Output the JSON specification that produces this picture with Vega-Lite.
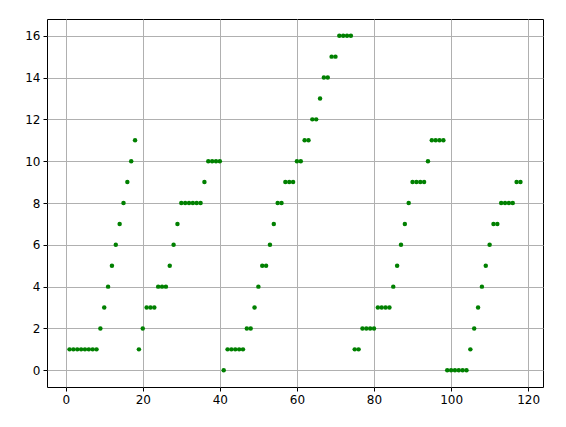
{
  "$schema": "https://vega.github.io/schema/vega-lite/v6.json",
  "width": 496,
  "height": 368,
  "padding": {"left": 47, "top": 19, "right": 23, "bottom": 40},
  "autosize": "none",
  "background": "white",
  "config": {
    "view": {"stroke": "black", "strokeWidth": 1},
    "axis": {
      "labelFont": "DejaVu Sans",
      "labelFontSize": 12,
      "labelColor": "black",
      "tickColor": "black",
      "tickSize": 4,
      "tickWidth": 1,
      "domain": false,
      "grid": true,
      "gridColor": "#b0b0b0",
      "gridWidth": 1,
      "labelPadding": 3,
      "title": null,
      "zindex": 1
    }
  },
  "data": {
    "values": [
      {"x":1,"y":1},{"x":2,"y":1},{"x":3,"y":1},{"x":4,"y":1},{"x":5,"y":1},{"x":6,"y":1},{"x":7,"y":1},{"x":8,"y":1},
      {"x":9,"y":2},{"x":10,"y":3},{"x":11,"y":4},{"x":12,"y":5},{"x":13,"y":6},{"x":14,"y":7},{"x":15,"y":8},{"x":16,"y":9},{"x":17,"y":10},{"x":18,"y":11},
      {"x":19,"y":1},{"x":20,"y":2},{"x":21,"y":3},{"x":22,"y":3},{"x":23,"y":3},{"x":24,"y":4},{"x":25,"y":4},{"x":26,"y":4},
      {"x":27,"y":5},{"x":28,"y":6},{"x":29,"y":7},{"x":30,"y":8},{"x":31,"y":8},{"x":32,"y":8},{"x":33,"y":8},{"x":34,"y":8},{"x":35,"y":8},
      {"x":36,"y":9},{"x":37,"y":10},{"x":38,"y":10},{"x":39,"y":10},{"x":40,"y":10},
      {"x":41,"y":0},{"x":42,"y":1},{"x":43,"y":1},{"x":44,"y":1},{"x":45,"y":1},{"x":46,"y":1},
      {"x":47,"y":2},{"x":48,"y":2},{"x":49,"y":3},{"x":50,"y":4},{"x":51,"y":5},{"x":52,"y":5},{"x":53,"y":6},{"x":54,"y":7},
      {"x":55,"y":8},{"x":56,"y":8},{"x":57,"y":9},{"x":58,"y":9},{"x":59,"y":9},{"x":60,"y":10},{"x":61,"y":10},
      {"x":62,"y":11},{"x":63,"y":11},{"x":64,"y":12},{"x":65,"y":12},{"x":66,"y":13},{"x":67,"y":14},{"x":68,"y":14},
      {"x":69,"y":15},{"x":70,"y":15},{"x":71,"y":16},{"x":72,"y":16},{"x":73,"y":16},{"x":74,"y":16},
      {"x":75,"y":1},{"x":76,"y":1},{"x":77,"y":2},{"x":78,"y":2},{"x":79,"y":2},{"x":80,"y":2},
      {"x":81,"y":3},{"x":82,"y":3},{"x":83,"y":3},{"x":84,"y":3},{"x":85,"y":4},{"x":86,"y":5},{"x":87,"y":6},{"x":88,"y":7},{"x":89,"y":8},
      {"x":90,"y":9},{"x":91,"y":9},{"x":92,"y":9},{"x":93,"y":9},{"x":94,"y":10},{"x":95,"y":11},{"x":96,"y":11},{"x":97,"y":11},{"x":98,"y":11},
      {"x":99,"y":0},{"x":100,"y":0},{"x":101,"y":0},{"x":102,"y":0},{"x":103,"y":0},{"x":104,"y":0},
      {"x":105,"y":1},{"x":106,"y":2},{"x":107,"y":3},{"x":108,"y":4},{"x":109,"y":5},{"x":110,"y":6},{"x":111,"y":7},{"x":112,"y":7},
      {"x":113,"y":8},{"x":114,"y":8},{"x":115,"y":8},{"x":116,"y":8},{"x":117,"y":9},{"x":118,"y":9}
    ]
  },
  "mark": {"type": "circle", "color": "#008000", "opacity": 1, "size": 20},
  "encoding": {
    "x": {
      "field": "x", "type": "quantitative",
      "scale": {"domain": [-4.85, 123.85], "nice": false, "zero": false},
      "axis": {"values": [0, 20, 40, 60, 80, 100, 120]}
    },
    "y": {
      "field": "y", "type": "quantitative",
      "scale": {"domain": [-0.8, 16.8], "nice": false, "zero": false},
      "axis": {"values": [0, 2, 4, 6, 8, 10, 12, 14, 16]}
    }
  }
}
